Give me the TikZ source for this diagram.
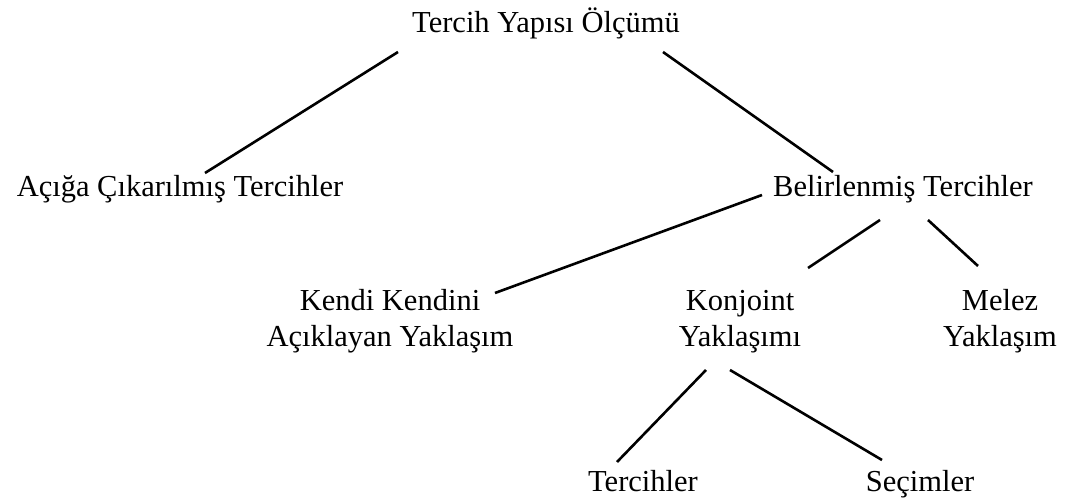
\documentclass[tikz,border=0pt]{standalone}
\usepackage{fontspec}
\setmainfont{Liberation Serif}
\begin{document}
\begin{tikzpicture}[x=1pt,y=-1pt,
  label/.style={inner sep=0pt, anchor=base, align=center,
                font=\fontsize{30.5}{36}\selectfont},
  branch/.style={line width=2.6pt}]
  \useasboundingbox (0,0) rectangle (1066,502);

  % labels of the classification tree (base = baseline of the last line)
  \node[label] (root) at (546,33) {Tercih Yapısı Ölçümü};
  \node[label] (rev)  at (180,197) {Açığa Çıkarılmış Tercihler};
  \node[label] (stat) at (903,197) {Belirlenmiş Tercihler};
  \node[label] (self) at (390,347) {Kendi Kendini\\Açıklayan Yaklaşım};
  \node[label] (conj) at (740,347) {Konjoint\\Yaklaşımı};
  \node[label] (hyb)  at (1000,347) {Melez\\Yaklaşım};
  \node[label] (pref) at (643,492) {Tercihler};
  \node[label] (choi) at (920,492) {Seçimler};

  % end points of the branches, just off the labels
  \coordinate (root-l) at (398,52);
  \coordinate (root-r) at (663,52);
  \coordinate (rev-t)  at (205,173);
  \coordinate (stat-t) at (833,172);
  \coordinate (stat-l) at (762,195);
  \coordinate (stat-b) at (880,220);
  \coordinate (stat-r) at (928,220);
  \coordinate (self-r) at (495,293);
  \coordinate (conj-t) at (808,268);
  \coordinate (hyb-t)  at (978,266);
  \coordinate (conj-l) at (706,370);
  \coordinate (conj-r) at (730,370);
  \coordinate (pref-t) at (617,462);
  \coordinate (choi-t) at (882,460);

  \draw[branch] (root-l) -- (rev-t);
  \draw[branch] (root-r) -- (stat-t);
  \draw[branch] (stat-l) -- (self-r);
  \draw[branch] (stat-b) -- (conj-t);
  \draw[branch] (stat-r) -- (hyb-t);
  \draw[branch] (conj-l) -- (pref-t);
  \draw[branch] (conj-r) -- (choi-t);
\end{tikzpicture}
\end{document}
